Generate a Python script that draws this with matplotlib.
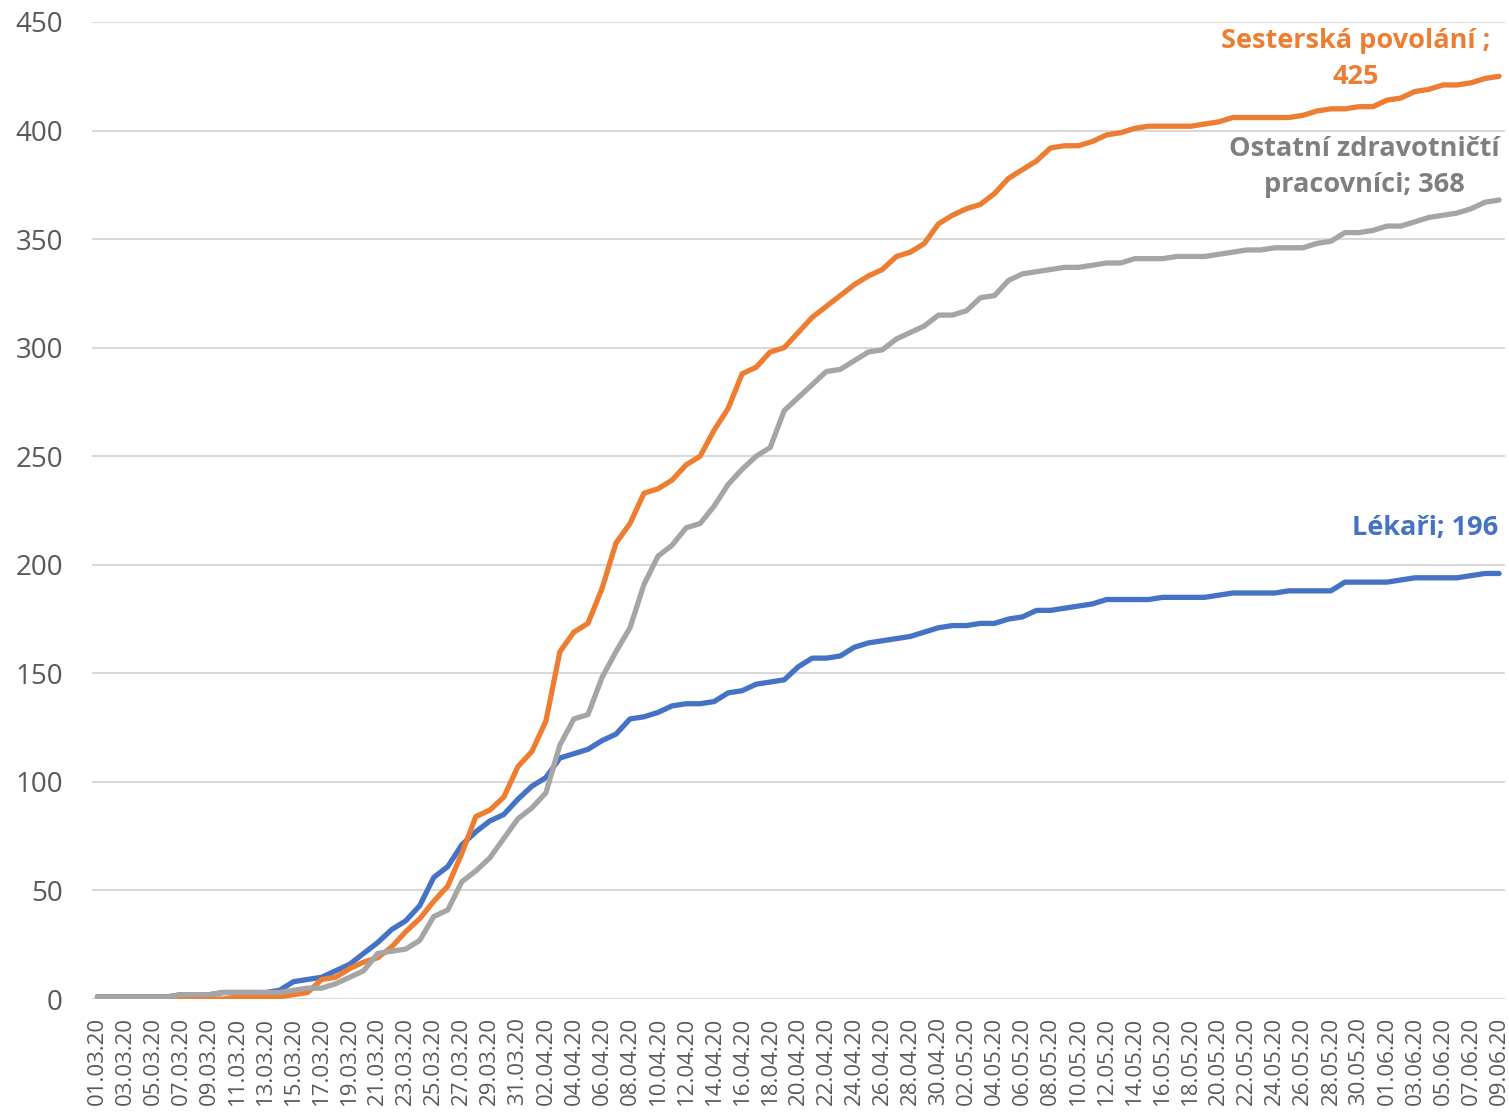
import numpy as np
import pandas as pd
import matplotlib
matplotlib.use('Agg')
import matplotlib.pyplot as plt

# daily dates 01.03.20 - 09.06.20
dates = pd.date_range('2020-03-01', '2020-06-09', freq='D')
date_labels = [d.strftime('%d.%m.%y') for d in dates]

# cumulative counts
lekari = [1, 1, 1, 1, 1, 1, 2, 2, 2, 3, 3, 3, 3, 4, 8, 9, 10, 13, 16, 21,
          26, 32, 36, 43, 56, 61, 71, 77, 82, 85, 92, 98, 102, 111, 113, 115, 119, 122, 129, 130,
          132, 135, 136, 136, 137, 141, 142, 145, 146, 147, 153, 157, 157, 158, 162, 164, 165, 166, 167, 169,
          171, 172, 172, 173, 173, 175, 176, 179, 179, 180, 181, 182, 184, 184, 184, 184, 185, 185, 185, 185,
          186, 187, 187, 187, 187, 188, 188, 188, 188, 192, 192, 192, 192, 193, 194, 194, 194, 194, 195, 196,
          196]

sesterska = [0, 0, 0, 0, 0, 0, 0, 0, 0, 0, 1, 1, 1, 1, 2, 3, 9, 10, 14, 17,
             19, 24, 31, 37, 45, 52, 67, 84, 87, 93, 107, 114, 128, 160, 169, 173, 189, 210, 219, 233,
             235, 239, 246, 250, 262, 272, 288, 291, 298, 300, 307, 314, 319, 324, 329, 333, 336, 342, 344, 348,
             357, 361, 364, 366, 371, 378, 382, 386, 392, 393, 393, 395, 398, 399, 401, 402, 402, 402, 402, 403,
             404, 406, 406, 406, 406, 406, 407, 409, 410, 410, 411, 411, 414, 415, 418, 419, 421, 421, 422, 424,
             425]

ostatni = [1, 1, 1, 1, 1, 1, 2, 2, 2, 3, 3, 3, 3, 3, 4, 5, 5, 7, 10, 13,
           21, 22, 23, 27, 38, 41, 54, 59, 65, 74, 83, 88, 95, 117, 129, 131, 148, 160, 171, 191,
           204, 209, 217, 219, 227, 237, 244, 250, 254, 271, 277, 283, 289, 290, 294, 298, 299, 304, 307, 310,
           315, 315, 317, 323, 324, 331, 334, 335, 336, 337, 337, 338, 339, 339, 341, 341, 341, 342, 342, 342,
           343, 344, 345, 345, 346, 346, 346, 348, 349, 353, 353, 354, 356, 356, 358, 360, 361, 362, 364, 367,
           368]

BLUE = '#4472C4'
ORANGE = '#ED7D31'
GREY = '#A5A5A5'
TEXT = '#595959'

plt.rcParams['font.family'] = ['Open Sans', 'DejaVu Sans']

fig = plt.figure(figsize=(15.09, 11.12), dpi=100)
ax = fig.add_axes([92 / 1509, 1 - 999 / 1112, 1413 / 1509, 977 / 1112])

x = np.arange(len(dates))
ax.plot(x, lekari, color=BLUE, lw=3.8, solid_joinstyle='round', solid_capstyle='round')
ax.plot(x, sesterska, color=ORANGE, lw=3.8, solid_joinstyle='round', solid_capstyle='round')
ax.plot(x, ostatni, color=GREY, lw=3.8, solid_joinstyle='round', solid_capstyle='round')

ax.set_xlim(-0.38, 100.42)
ax.set_ylim(0, 450)
ax.set_yticks(range(0, 451, 50))
ax.set_xticks(x[::2])
ax.set_xticklabels(date_labels[::2], rotation=90, fontsize=16, color=TEXT)
ax.tick_params(axis='y', length=0, pad=21, labelsize=20, labelcolor=TEXT)
ax.tick_params(axis='x', length=0, pad=13)
ax.grid(axis='y', color='#D9D9D9', lw=1.5)
ax.set_axisbelow(True)
for s in ax.spines.values():
    s.set_visible(False)

# end labels
ax.text(89.8, 433, 'Sesterská povolání ;\n425', color=ORANGE, fontsize=19.5, fontweight='bold',
        ha='center', va='center', linespacing=1.5)
ax.text(90.4, 383, 'Ostatní zdravotničtí\npracovníci; 368', color='#7F7F7F', fontsize=19.5,
        fontweight='bold', ha='center', va='center', linespacing=1.5)
ax.text(94.7, 217, 'Lékaři; 196', color=BLUE, fontsize=19.5, fontweight='bold',
        ha='center', va='center')

fig.savefig('out.png', dpi=100)
